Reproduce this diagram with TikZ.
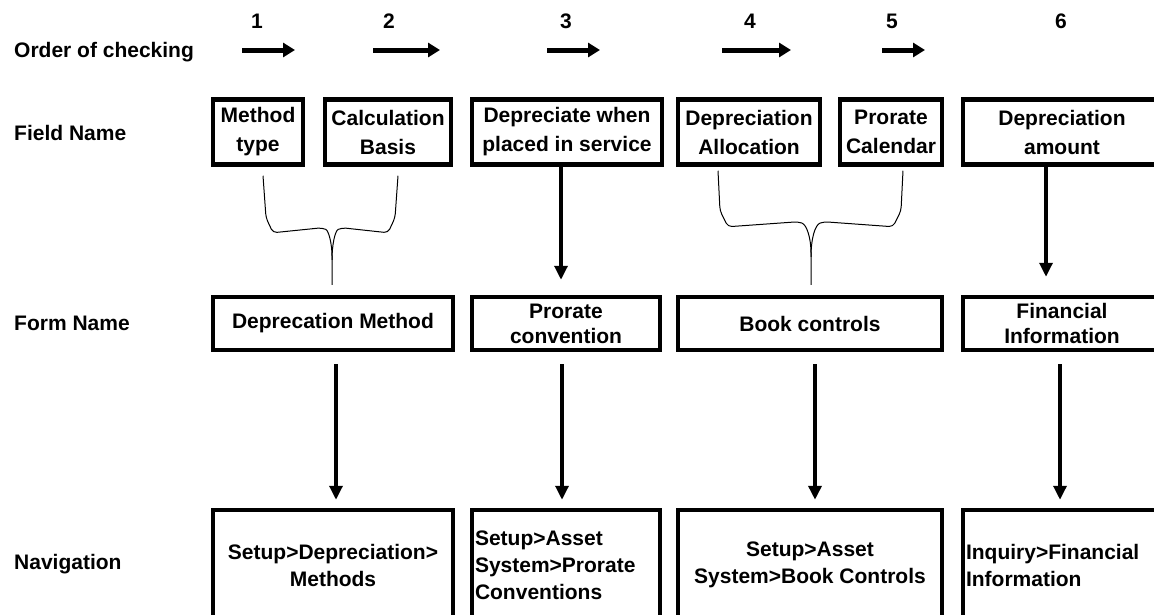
\documentclass[tikz,border=0pt]{standalone}
\usepackage{fontspec}
\setmainfont{Liberation Sans}
\usepackage{tikz}
\usetikzlibrary{arrows.meta,calc}

\begin{document}
\begin{tikzpicture}[
  x=1pt, y=1pt,
  lbl/.style={anchor=west, inner sep=0pt, font=\fontsize{21}{26}\selectfont\bfseries},
  num/.style={inner sep=0pt, font=\fontsize{21}{26}\selectfont\bfseries},
  fieldbox/.style={draw, line width=4.5pt, minimum height=65pt, inner sep=2pt, align=center, font=\fontsize{21}{29}\selectfont\bfseries},
  formbox/.style={draw, line width=4.5pt, minimum height=53pt, inner sep=2pt, align=center, font=\fontsize{21}{25}\selectfont\bfseries},
  navbox/.style={draw, line width=4.5pt, minimum height=110pt, inner sep=2pt, align=center, font=\fontsize{21}{27}\selectfont\bfseries},
  order/.style={line width=5pt, -{Triangle[length=12pt,width=14pt]}},
  down/.style={line width=3.3pt, -{Triangle[length=14pt,width=13pt]}},
  fork/.style={line width=1pt, rounded corners=4pt}
]
  \useasboundingbox (0,0) rectangle (1154,-614);
  \clip (0,0) rectangle (1154,-614);

  % row labels
  \node[lbl] (lorder) at (14,-52) {Order of checking};
  \node[lbl] (lfield) at (14,-133) {Field Name};
  \node[lbl] (lform) at (14,-323) {Form Name};
  \node[lbl] (lnav) at (14,-564) {Navigation};

  % order of checking
  \node[num] (n1) at (257,-21) {1};
  \node[num] (n2) at (389,-21) {2};
  \node[num] (n3) at (566,-21) {3};
  \node[num] (n4) at (750,-21) {4};
  \node[num] (n5) at (892,-21) {5};
  \node[num] (n6) at (1061,-21) {6};
  \draw[order] ([xshift=-15pt,yshift=-29pt]n1.center) -- ++(53,0);
  \draw[order] ([xshift=-16pt,yshift=-29pt]n2.center) -- ++(67,0);
  \draw[order] ([xshift=-19pt,yshift=-29pt]n3.center) -- ++(53,0);
  \draw[order] ([xshift=-28pt,yshift=-29pt]n4.center) -- ++(69,0);
  \draw[order] ([xshift=-10pt,yshift=-29pt]n5.center) -- ++(43,0);

  % field names
  \node[fieldbox, minimum width=90pt] (mtype) at (258,-132) {Method\\type};
  \node[fieldbox, minimum width=126pt] (calcb) at (388,-132) {Calculation\\Basis};
  \node[fieldbox, minimum width=190pt] (deprsvc) at (567,-132) {Depreciate when\\placed in service};
  \node[fieldbox, minimum width=142pt] (deprall) at (749,-132) {Depreciation\\Allocation};
  \node[fieldbox, minimum width=102pt] (procal) at (891,-132) {Prorate\\Calendar};
  \node[fieldbox, minimum width=198pt] (depramt) at (1062,-132) {Depreciation\\amount};

  % form names
  \node[formbox, minimum width=240pt] (fdep) at (333,-323.5) {Deprecation Method};
  \node[formbox, minimum width=188pt] (fpro) at (566,-323.5) {Prorate\\convention};
  \node[formbox, minimum width=264pt] (fbook) at (810,-323.5) {Book controls};
  \node[formbox, minimum width=198pt] (ffin) at (1062,-323.5) {Financial\\Information};

  % navigation
  \node[navbox, minimum width=240pt] (ndep) at (333,-565) {Setup>Depreciation>\\Methods};
  \node[navbox, minimum width=188pt, text width=182pt, align=left] (npro) at (566,-565) {Setup>Asset\\System>Prorate\\Conventions};
  \node[navbox, minimum width=264pt] (nbook) at (810,-565) {Setup>Asset\\System>Book Controls};
  \node[navbox, minimum width=198pt, text width=192pt, align=left] (nfin) at (1062,-565) {Inquiry>Financial\\Information};

  % fields to forms
  \coordinate (b1l) at ([xshift=5pt,yshift=-9pt]mtype.south);
  \coordinate (b1r) at ([xshift=10pt,yshift=-9pt]calcb.south);
  \coordinate (b1t) at ([xshift=-1pt,yshift=10pt]fdep.north);
  \draw[fork] (b1l) -- ++(3,-42) -- ++(7,-15) -- ($(b1t)+(-10,57)$) .. controls +(7,-3) and +(0,15) .. ($(b1t)+(0,25)$) -- (b1t);
  \draw[fork] (b1r) -- ++(-3,-42) -- ++(-7,-15) -- ($(b1t)+(10,57)$) .. controls +(-7,-3) and +(0,15) .. ($(b1t)+(0,25)$);

  \coordinate (b2l) at ([xshift=-31pt,yshift=-4pt]deprall.south);
  \coordinate (b2r) at ([xshift=12pt,yshift=-4pt]procal.south);
  \coordinate (b2t) at ([xshift=1pt,yshift=10pt]fbook.north);
  \draw[fork] (b2l) -- ++(2,-40) -- ++(8,-16) -- ($(b2t)+(-13,63)$) .. controls +(9,-3) and +(0,18) .. ($(b2t)+(0,28)$) -- (b2t);
  \draw[fork] (b2r) -- ++(-2,-40) -- ++(-8,-16) -- ($(b2t)+(13,63)$) .. controls +(-9,-3) and +(0,18) .. ($(b2t)+(0,28)$);

  \draw[down, shorten >=15pt] ([xshift=-6pt]deprsvc.south) -- ([xshift=-5pt]fpro.north);
  \draw[down, shorten >=18pt] ([xshift=-16pt]depramt.south) -- ([xshift=-16pt]ffin.north);

  % forms to navigation
  \draw[down, shorten <=12pt, shorten >=8pt] ([xshift=3pt]fdep.south) -- ([xshift=3pt]ndep.north);
  \draw[down, shorten <=12pt, shorten >=8pt] ([xshift=-4pt]fpro.south) -- ([xshift=-4pt]npro.north);
  \draw[down, line width=4.5pt, shorten <=12pt, shorten >=8pt] ([xshift=5pt]fbook.south) -- ([xshift=5pt]nbook.north);
  \draw[down, shorten <=12pt, shorten >=8pt] ([xshift=-2pt]ffin.south) -- ([xshift=-2pt]nfin.north);
\end{tikzpicture}
\end{document}
